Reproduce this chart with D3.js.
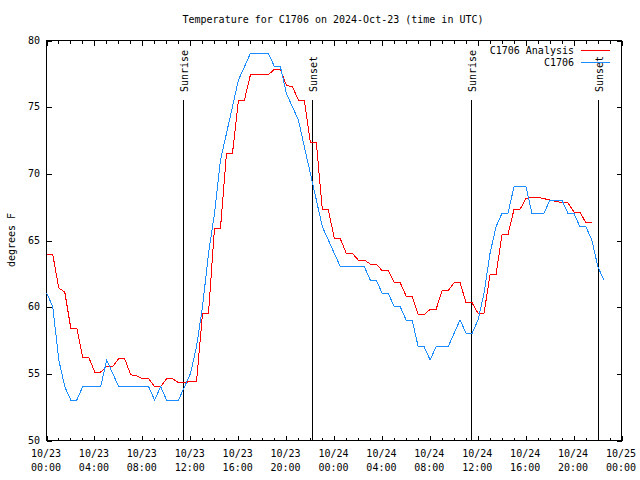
<!DOCTYPE html>
<html>
<head>
<meta charset="utf-8">
<script src="https://cdn.jsdelivr.net/npm/d3@7"></script>
<style>
  html, body { margin: 0; padding: 0; background: #fff; }
  svg { display: block; }
  text { font-family: "DejaVu Sans Mono", "Liberation Mono", monospace; font-size: 10px; fill: #000; }
</style>
</head>
<body>
<svg id="chart" width="640" height="480"></svg>
<script>
// ---------------- data ----------------
const titleText = "Temperature for C1706 on 2024-Oct-23 (time in UTC)";
const yLabelText = "degrees F";
const seriesNames = ["C1706 Analysis", "C1706"];
const seriesColors = ["#ff0000", "#1a8cff"];

// samples every 30 minutes starting at 00:04 UTC on 10/23
const sampleStart = "2024-10-23T00:04:00Z";
const sampleStepMinutes = 30;

const analysis = [
  63.9,63.9, 61.4,61.1, 58.4,58.4, 56.2,56.2, 55.1,55.1, 55.5,55.5, 56.1,56.1, 54.9,54.8, 54.6,54.6, 54.0,54.0,
  54.6,54.6, 54.3,54.3, 54.4,54.4, 59.5,59.5, 65.9,65.9, 71.5,71.5, 75.5,75.5, 77.4,77.4, 77.4,77.4, 77.8,77.8,
  76.6,76.5, 75.5,75.5, 72.3,72.3, 67.3,67.3, 65.1,65.1, 64.0,64.0, 63.5,63.5, 63.2,63.2, 62.7,62.7, 61.8,61.8,
  60.8,60.8, 59.4,59.4, 59.8,59.8, 61.2,61.2, 61.8,61.8, 60.3,60.3, 59.5,59.5, 62.4,62.4, 65.4,65.4, 67.3,67.3,
  68.1,68.2, 68.2,68.1, 68.0,67.9, 67.8,67.8, 67.1,67.1, 66.3,66.3
];

const observed = [
  61,60,56,54,53,53,54,54,54,54,
  56,55,54,54,54,54,54,54,53,54,
  53,53,53,54,55,57,60,64,67,71,
  73,75,77,78,79,79,79,79,78,78,
  76,75,74,72,70,68,66,65,64,63,
  63,63,63,63,62,62,61,61,60,60,
  59,59,57,57,56,57,57,57,58,59,
  58,58,59,61,64,66,67,67,69,69,
  69,67,67,67,68,68,68,67,67,66,
  66,65,63,62
];

const sunEvents = [
  { label: "Sunrise", time: "2024-10-23T11:26:00Z" },
  { label: "Sunset",  time: "2024-10-23T22:11:00Z" },
  { label: "Sunrise", time: "2024-10-24T11:28:00Z" },
  { label: "Sunset",  time: "2024-10-24T22:07:00Z" }
];

const xDomain = ["2024-10-23T00:00:00Z", "2024-10-25T00:00:00Z"];
const yDomain = [50, 80];
const yTicks = [50, 55, 60, 65, 70, 75, 80];

// ---------------- layout ----------------
const L = 46, R = 621, T = 40, B = 440;
const svg = d3.select("#chart");
svg.append("rect").attr("width", 640).attr("height", 480).attr("fill", "#fff");

const x = d3.scaleUtc().domain(xDomain.map(d => new Date(d))).range([L, R]);
const y = d3.scaleLinear().domain(yDomain).range([B, T]);

const t0 = new Date(sampleStart).getTime();
const tAt = i => new Date(t0 + i * sampleStepMinutes * 60000);

// border
svg.append("rect")
  .attr("x", L + 0.5).attr("y", T + 0.5)
  .attr("width", R - L).attr("height", B - T)
  .attr("fill", "none").attr("stroke", "#000").attr("stroke-width", 1)
  .attr("shape-rendering", "crispEdges");

const majorLen = 5, minorLen = 3;
const majorTicks = x.ticks(d3.utcHour.every(4));
const minorTicks = x.ticks(d3.utcHour.every(1)).filter(d => d.getUTCHours() % 4 !== 0);

function tickAxis(gen, transform, ticks, len) {
  svg.append("g").attr("transform", transform)
    .call(gen.tickValues(ticks).tickSizeInner(-len).tickSizeOuter(0).tickFormat(""))
    .call(g => g.select(".domain").remove())
    .call(g => g.selectAll("line").attr("stroke", "#000").attr("shape-rendering", "crispEdges"));
}
tickAxis(d3.axisBottom(x), `translate(0.5,${B + 0.5})`, majorTicks, majorLen);
tickAxis(d3.axisBottom(x), `translate(0.5,${B + 0.5})`, minorTicks, minorLen);
tickAxis(d3.axisTop(x), `translate(0.5,${T + 0.5})`, majorTicks, majorLen);
tickAxis(d3.axisTop(x), `translate(0.5,${T + 0.5})`, minorTicks, minorLen);
tickAxis(d3.axisLeft(y), `translate(${L + 0.5},0.5)`, yTicks, majorLen);
tickAxis(d3.axisRight(y), `translate(${R + 0.5},0.5)`, yTicks, majorLen);

// x labels
const fDate = d3.utcFormat("%m/%d"), fTime = d3.utcFormat("%H:%M");
const xl = svg.append("g");
majorTicks.forEach(d => {
  const t = xl.append("text").attr("text-anchor", "middle");
  t.append("tspan").attr("x", x(d)).attr("y", 457).text(fDate(d));
  t.append("tspan").attr("x", x(d)).attr("y", 471).text(fTime(d));
});

// y labels
svg.append("g").selectAll("text").data(yTicks).join("text")
  .attr("x", L - 6).attr("y", d => y(d) + 3.5)
  .attr("text-anchor", "end").text(d => d);

svg.append("text")
  .attr("transform", "translate(11,240) rotate(-90)")
  .attr("text-anchor", "middle").attr("dy", "0.35em")
  .text(yLabelText);

// title
svg.append("text").attr("x", 333).attr("y", 22.5).attr("text-anchor", "middle").text(titleText);

// sunrise / sunset
sunEvents.forEach(e => {
  const sx = Math.round(x(new Date(e.time))) + 0.5;
  svg.append("line").attr("x1", sx).attr("x2", sx).attr("y1", 100).attr("y2", B)
    .attr("stroke", "#000").attr("shape-rendering", "crispEdges");
  svg.append("text")
    .attr("transform", `translate(${sx + 0.5},92) rotate(-90)`)
    .attr("dy", "0.35em").attr("text-anchor", "start")
    .text(e.label);
});

// data lines
const line = d3.line().x((d, i) => x(tAt(i))).y(d => y(d));
[analysis, observed].forEach((s, j) => {
  svg.append("path").datum(s)
    .attr("d", line)
    .attr("fill", "none")
    .attr("stroke", seriesColors[j])
    .attr("stroke-width", 1)
    .attr("shape-rendering", "crispEdges");
});

// legend
seriesNames.forEach((name, j) => {
  const ly = 50 + j * 12;
  svg.append("text").attr("x", 574).attr("y", ly + 3.5).attr("text-anchor", "end").text(name);
  svg.append("line").attr("x1", 581).attr("x2", 610).attr("y1", ly + 0.5).attr("y2", ly + 0.5)
    .attr("stroke", seriesColors[j]).attr("shape-rendering", "crispEdges");
});
</script>
</body>
</html>
